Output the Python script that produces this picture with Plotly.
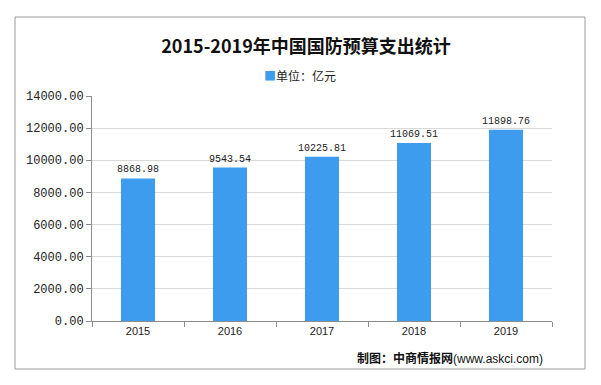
import plotly.graph_objects as go

years = ["2015", "2016", "2017", "2018", "2019"]
budget = [8868.98, 9543.54, 10225.81, 11069.51, 11898.76]
series_name = "单位：亿元"
title_text = "2015-2019年中国国防预算支出统计"
source_text = "制图：中商情报网<span style='font-family:Liberation Sans;font-weight:normal'>(www.askci.com)</span>"
bar_color = "#3d9cee"

W, H = 601, 385
L, R, T, B = 92, 49, 96, 64
pw = W - L - R
ph = H - T - B

fig = go.Figure()
fig.add_trace(go.Bar(
    x=years, y=budget, name=series_name,
    marker=dict(color=bar_color, line=dict(width=0)),
    width=0.37,
    text=[f"{v:.2f}" for v in budget],
    textposition="outside",
    constraintext="none",
    textfont=dict(family="Liberation Mono", size=10, color="#222222"),
    cliponaxis=False,
    showlegend=False,
))

def px_x(x):
    return (x - L) / pw

def px_y(y):
    return (H - B - y) / ph

fig.add_shape(type="rect", xref="paper", yref="paper",
              x0=px_x(15), x1=px_x(585), y0=px_y(369), y1=px_y(17),
              line=dict(color="#9a9a9a", width=1), layer="below")

fig.update_layout(
    width=W, height=H,
    margin=dict(l=L, r=R, t=T, b=B, autoexpand=False),
    paper_bgcolor="white", plot_bgcolor="white",
    title=dict(text=title_text, x=306 / W, xref="container", xanchor="center",
               y=1 - 47 / H, yref="container", yanchor="middle",
               font=dict(family="Noto Sans CJK SC", size=18, color="#111111", weight="bold")),
    showlegend=False,
    xaxis=dict(type="category", showgrid=False, showline=True, linecolor="#8c8c8c",
               ticks="outside", tickson="boundaries", ticklen=5, tickcolor="#8c8c8c",
               tickfont=dict(family="Liberation Sans", size=11, color="#222222")),
    yaxis=dict(range=[0, 14000], dtick=2000, tickformat=".2f",
               showgrid=True, gridcolor="#d9d9d9", gridwidth=1,
               showline=True, linecolor="#8c8c8c", ticks="outside", ticklen=5,
               tickcolor="#8c8c8c", zeroline=False,
               tickfont=dict(family="Liberation Mono", size=12, color="#222222")),
    bargap=0.63,
)

# legend drawn as a coloured square plus the series name
fig.add_annotation(text=f"<span style='color:{bar_color}'>■</span>{series_name}",
                   xref="paper", yref="paper", x=px_x(300), y=px_y(75),
                   xanchor="center", yanchor="middle", showarrow=False,
                   font=dict(family="Noto Sans CJK SC", size=12, color="#222222"))

fig.add_annotation(text=source_text, xref="paper", yref="paper",
                   x=px_x(545), y=px_y(357), xanchor="right", yanchor="middle",
                   showarrow=False,
                   font=dict(family="Noto Sans CJK SC", size=12, color="#111111", weight="bold"))

fig.write_html("out.html", config={"displayModeBar": False},
               post_script="document.body.style.margin='0';")
